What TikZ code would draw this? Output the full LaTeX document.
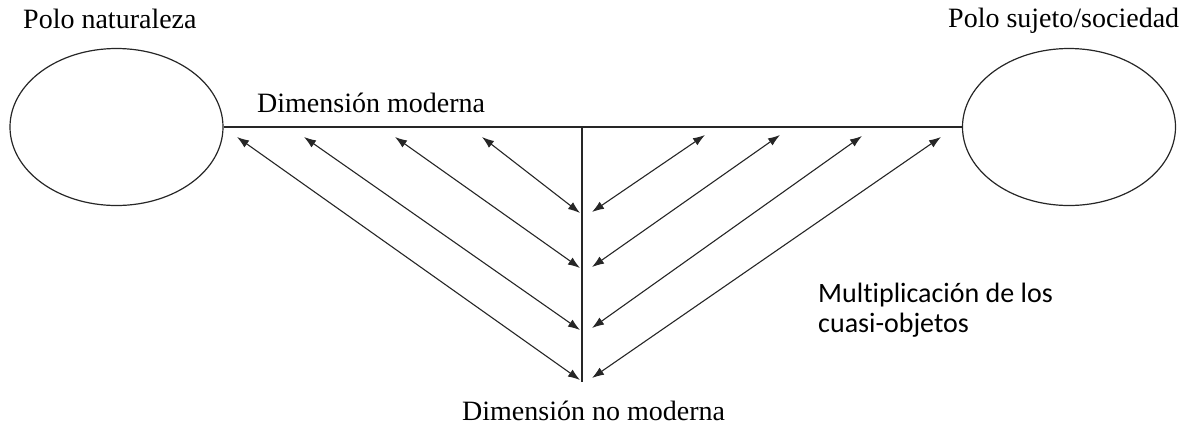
\documentclass[tikz,border=0pt]{standalone}
\usepackage{fontspec}
\setmainfont{Liberation Serif}
\newfontfamily\calib[Ligatures=NoCommon]{Carlito}
\usetikzlibrary{arrows.meta,shapes.geometric}
\begin{document}
\begin{tikzpicture}[x=1pt,y=-1pt,
  ln/.style={line width=1.2pt,draw=black!85},
  dbl/.style={line width=1.1pt,draw=black!85,{Latex[length=12pt,width=8.5pt]}-{Latex[length=12pt,width=8.5pt]}},
  pole/.style={ellipse,draw=black!85,line width=1.2pt,minimum width=213pt,minimum height=157pt,inner sep=0pt},
  lbl/.style={inner sep=0pt,anchor=base west,font=\fontsize{28}{33}\selectfont},
  slbl/.style={inner sep=0pt,anchor=base west,font=\calib\fontsize{28}{30}\selectfont}]
\useasboundingbox (0,0) rectangle (1186,432);
\node[pole] (L) at (116.5,127) {};
\node[pole] (R) at (1069,127) {};
\draw[ln] (L.east) -- (R.west);
\coordinate (vt) at (582,127);
\coordinate (vb) at (582,382);
\draw[ln] (vt) -- (vb);
% left arrows
\coordinate (la1) at (482,137); \coordinate (lb1) at (580,213);
\coordinate (la2) at (395,137); \coordinate (lb2) at (580,268);
\coordinate (la3) at (304,137); \coordinate (lb3) at (580,330);
\coordinate (la4) at (237,137); \coordinate (lb4) at (580,380);
\draw[dbl] (la1) -- (lb1);
\draw[dbl] (la2) -- (lb2);
\draw[dbl] (la3) -- (lb3);
\draw[dbl] (la4) -- (lb4);
% right arrows
\coordinate (ra1) at (705,135); \coordinate (rb1) at (592,212);
\coordinate (ra2) at (780,135); \coordinate (rb2) at (592,267);
\coordinate (ra3) at (862,136); \coordinate (rb3) at (592,328);
\coordinate (ra4) at (941,137); \coordinate (rb4) at (592,378);
\draw[dbl] (ra1) -- (rb1);
\draw[dbl] (ra2) -- (rb2);
\draw[dbl] (ra3) -- (rb3);
\draw[dbl] (ra4) -- (rb4);
% labels
\node[lbl] (t1) at (23,28) {Polo naturaleza};
\node[lbl] (t2) at (948,27) {Polo sujeto/sociedad};
\node[lbl] (t3) at (257,112) {Dimensión moderna};
\node[lbl] (t4) at (462,420) {Dimensión no moderna};
\node[slbl] (t5) at (818,302) {Multiplicación de los};
\node[slbl] (t6) at (818,332) {cuasi-objetos};
\end{tikzpicture}
\end{document}
